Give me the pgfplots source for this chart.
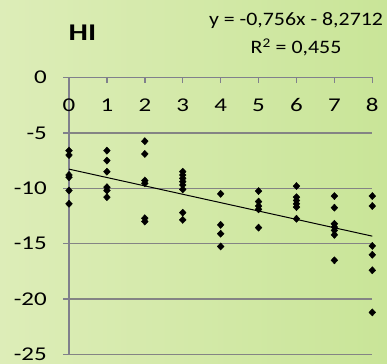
\documentclass[border=0pt]{standalone}
\usepackage{pgfplots}
\pgfplotsset{compat=1.18}
\usepackage{fontspec}
\setmainfont{Carlito}[FakeStretch=1.15]
\newfontfamily\tickfont{Carlito}[FakeStretch=1.28]
\begin{document}
\begin{tikzpicture}[x=1pt,y=1pt]
\shade[left color={rgb,255:red,221;green,237;blue,184}, right color={rgb,255:red,201;green,229;blue,152}] (0,0) rectangle (387,363);
\begin{axis}[at={(69pt,8.5pt)}, anchor=south west, scale only axis,
  width=303.3pt, height=277pt,
  xmin=0, xmax=8, ymin=-25, ymax=0,
  axis x line*=top, axis y line*=left,
  axis line style={-, draw={rgb,255:red,128;green,128;blue,140}, line width=1.5pt},
  xtick={0,1,...,8}, ytick={-25,-20,-15,-10,-5,0},
  xticklabels={0,1,2,3,4,5,6,7,8},
  yticklabels={-25,-20,-15,-10,-5,0},
  major tick length=6pt,
  xtick align=inside, ytick align=outside,
  tick style={draw={rgb,255:red,128;green,128;blue,140}, line width=1.5pt},
  ymajorgrids, grid style={draw={rgb,255:red,132;green,132;blue,132}, line width=1.5pt},
  ticklabel style={font=\tickfont\fontsize{19.5}{21}\selectfont, inner sep=0pt},
  xticklabel style={anchor=center, yshift=-27.5pt},
  yticklabel style={anchor=east, xshift=-16pt},
  clip=false,
]
\addplot[only marks, mark=diamond*, mark size=3.6pt, mark options={xscale=1.25, fill=black, draw=black}] coordinates {
(0,-6.6) (0,-7.0) (0,-8.8) (0,-9.0) (0,-10.2) (0,-11.4)
(1,-6.6) (1,-7.5) (1,-8.5) (1,-9.9) (1,-10.2) (1,-10.8)
(2,-5.75) (2,-6.9) (2,-9.3) (2,-9.55) (2,-12.7) (2,-13.0)
(3,-8.5) (3,-8.8) (3,-9.1) (3,-9.4) (3,-9.7) (3,-10.1) (3,-12.2) (3,-12.85)
(4,-10.5) (4,-13.3) (4,-14.1) (4,-15.25)
(5,-10.25) (5,-11.2) (5,-11.6) (5,-11.9) (5,-13.55)
(6,-9.8) (6,-10.8) (6,-11.1) (6,-11.4) (6,-11.7) (6,-12.75)
(7,-10.7) (7,-11.75) (7,-13.2) (7,-13.5) (7,-13.8) (7,-14.2) (7,-16.5)
(8,-10.7) (8,-11.6) (8,-15.2) (8,-16.0) (8,-17.4) (8,-21.2)
};
\addplot[black, line width=1pt] coordinates {(0,-8.2712) (8,-14.3192)};
\end{axis}
\node[font=\tickfont\bfseries\fontsize{24}{26}\selectfont] at (82.5,330) {HI};
\node[align=center, font=\fontsize{19}{28.5}\selectfont] at (296,329) {y = -0,756x - 8,2712\\R\textsuperscript{2} = 0,455};
\end{tikzpicture}
\end{document}
